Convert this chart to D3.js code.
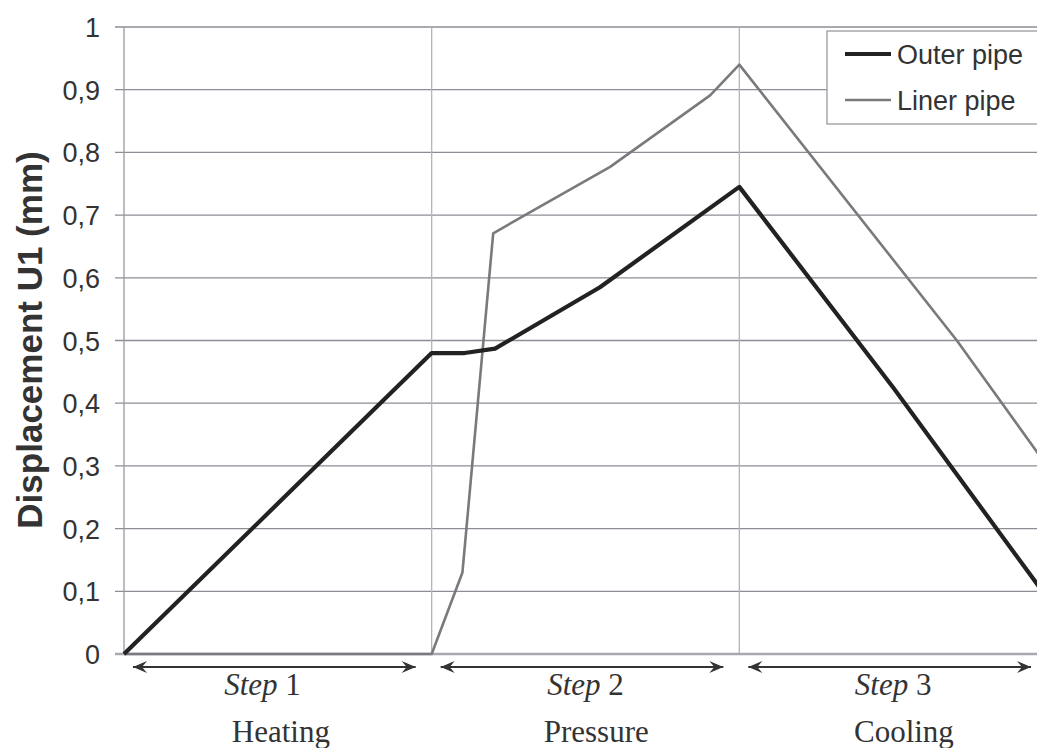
<!DOCTYPE html>
<html>
<head>
<meta charset="utf-8">
<script src="https://cdn.jsdelivr.net/npm/d3@7"></script>
<style>
  html, body { margin: 0; padding: 0; background: #fff; overflow: hidden; }
</style>
</head>
<body>
<script>
const WIDTH = 1037
const HEIGHT = 748

// Données (x en "steps" : 0-1 chauffage, 1-2 pression, 2-3 refroidissement)
const outerT = [0, 0.5, 1.0, 1.107, 1.206, 1.547, 2.0, 2.5, 3.0]
const outerU = [0, 0.24, 0.48, 0.48, 0.487, 0.585, 0.745, 0.425, 0.09]
const linerT = [0, 1.0, 1.1, 1.2, 1.58, 1.905, 2.0, 2.707, 3.0]
const linerU = [0, 0, 0.13, 0.671, 0.777, 0.891, 0.94, 0.5, 0.30]
const yTicks = [0, 0.1, 0.2, 0.3, 0.4, 0.5, 0.6, 0.7, 0.8, 0.9, 1]
const stepBounds = [1, 2]
const stepLabels = ["1", "2", "3"]
const phaseLabels = ["Heating", "Pressure", "Cooling"]
const seriesNames = ["Outer pipe", "Liner pipe"]

const outer = outerT.map((t, i) => ({ t: t, u: outerU[i] }))
const liner = linerT.map((t, i) => ({ t: t, u: linerU[i] }))

// décalage des textes dans chaque étape
const stepTextPos = [0.45, 0.5, 0.5]
const phaseTextPos = [0.51, 0.535, 0.535]

const svg = d3.select("body").append("svg")
    .attr("width", WIDTH)
    .attr("height", HEIGHT)
    .style("font-family", "'Liberation Sans', Arial, sans-serif")

const x = d3.scaleLinear().domain([0, 3]).range([124, 1047])
const y = d3.scaleLinear().domain([0, 1]).range([654, 27])

// Grille horizontale + petits traits à gauche
svg.append("g").selectAll("line")
    .data(yTicks.filter(d => d > 0))
    .enter().append("line")
    .attr("x1", 115).attr("x2", x(3))
    .attr("y1", d => y(d)).attr("y2", d => y(d))
    .attr("stroke", "#8d8d95").attr("stroke-width", 1.3)

// Axe gauche
svg.append("line")
    .attr("x1", x(0)).attr("x2", x(0))
    .attr("y1", y(1)).attr("y2", y(0))
    .attr("stroke", "#9a9aa0").attr("stroke-width", 1.3)

// Séparations des étapes
svg.append("g").selectAll("line")
    .data(stepBounds)
    .enter().append("line")
    .attr("x1", d => x(d)).attr("x2", d => x(d))
    .attr("y1", y(1)).attr("y2", y(0))
    .attr("stroke", "#b4b4ba").attr("stroke-width", 1.3)

// Ligne du zéro
svg.append("line")
    .attr("x1", 115).attr("x2", x(3))
    .attr("y1", y(0)).attr("y2", y(0))
    .attr("stroke", "#a8a8ae").attr("stroke-width", 2.5)

// Labels Y
svg.append("g").selectAll("text")
    .data(yTicks)
    .enter().append("text")
    .attr("x", 100)
    .attr("y", d => y(d) + 10)
    .attr("text-anchor", "end")
    .attr("font-size", 27)
    .attr("fill", "#333")
    .text(d => d3.format(".1f")(d).replace(".", ",").replace(/,0$/, ""))

svg.append("text")
    .attr("transform", "translate(42,340) rotate(-90)")
    .attr("text-anchor", "middle")
    .attr("font-size", 35)
    .attr("font-weight", "bold")
    .attr("fill", "#333")
    .text("Displacement U1 (mm)")

// Courbes
const line = d3.line().x(d => x(d.t)).y(d => y(d.u))

svg.append("path")
    .datum(liner)
    .attr("d", line)
    .attr("fill", "none")
    .attr("stroke", "#7a7a7e")
    .attr("stroke-width", 2.6)
    .attr("stroke-linejoin", "round")

svg.append("path")
    .datum(outer)
    .attr("d", line)
    .attr("fill", "none")
    .attr("stroke", "#222")
    .attr("stroke-width", 4.2)
    .attr("stroke-linejoin", "round")

// Légende
const legend = svg.append("g")
legend.append("rect")
    .attr("x", 827).attr("y", 31)
    .attr("width", 220).attr("height", 93)
    .attr("fill", "#fff")
    .attr("stroke", "#9a9aa0").attr("stroke-width", 1.3)

const legStyles = [{ c: "#222", w: 4.2 }, { c: "#7a7a7e", w: 2.6 }]
seriesNames.forEach((name, i) => {
    const ly = 54 + i * 46
    legend.append("line")
        .attr("x1", 845).attr("x2", 891)
        .attr("y1", ly).attr("y2", ly)
        .attr("stroke", legStyles[i].c).attr("stroke-width", legStyles[i].w)
    legend.append("text")
        .attr("x", 897).attr("y", ly + 10)
        .attr("font-size", 27)
        .attr("fill", "#333")
        .text(name)
})

// Flèches des étapes
const defs = svg.append("defs")
const arrowPath = "M0,0 L-14,-6 L-9,0 L-14,6 Z"
defs.append("marker")
    .attr("id", "arrowEnd")
    .attr("viewBox", "-15 -7 16 14")
    .attr("markerWidth", 16).attr("markerHeight", 14)
    .attr("markerUnits", "userSpaceOnUse")
    .attr("orient", "auto")
    .attr("refX", 0).attr("refY", 0)
    .append("path").attr("d", arrowPath).attr("fill", "#333")
defs.append("marker")
    .attr("id", "arrowStart")
    .attr("viewBox", "-15 -7 16 14")
    .attr("markerWidth", 16).attr("markerHeight", 14)
    .attr("markerUnits", "userSpaceOnUse")
    .attr("orient", "auto-start-reverse")
    .attr("refX", 0).attr("refY", 0)
    .append("path").attr("d", arrowPath).attr("fill", "#333")

const steps = svg.append("g").selectAll("g")
    .data(stepLabels)
    .enter().append("g")

steps.append("line")
    .attr("x1", (d, i) => x(i) + 9)
    .attr("x2", (d, i) => x(i + 1) - 16)
    .attr("y1", 667).attr("y2", 667)
    .attr("stroke", "#333").attr("stroke-width", 2.2)
    .attr("marker-start", "url(#arrowStart)")
    .attr("marker-end", "url(#arrowEnd)")

const stepText = steps.append("text")
    .attr("x", (d, i) => x(i + stepTextPos[i]))
    .attr("y", 695)
    .attr("text-anchor", "middle")
    .attr("font-family", "'Liberation Serif', 'Times New Roman', serif")
    .attr("font-size", 31)
    .attr("fill", "#333")
stepText.append("tspan").attr("font-style", "italic").text("Step ")
stepText.append("tspan").text(d => d)

steps.append("text")
    .attr("x", (d, i) => x(i + phaseTextPos[i]))
    .attr("y", 742)
    .attr("text-anchor", "middle")
    .attr("font-family", "'Liberation Serif', 'Times New Roman', serif")
    .attr("font-size", 31)
    .attr("fill", "#333")
    .text((d, i) => phaseLabels[i])
</script>
</body>
</html>
